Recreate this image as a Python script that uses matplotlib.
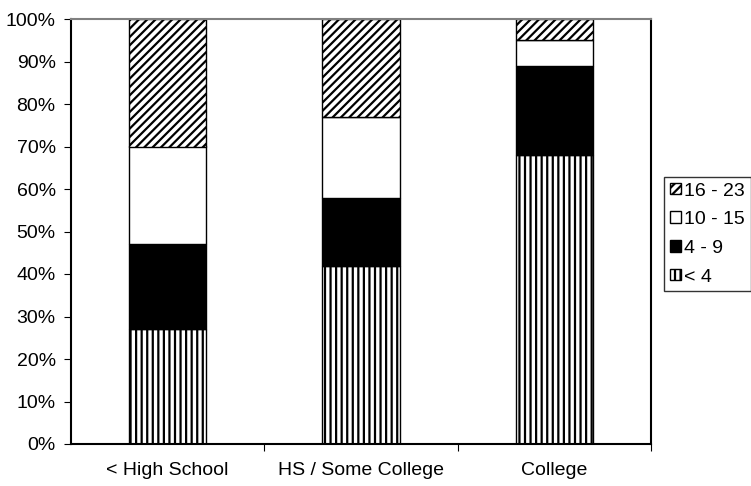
import matplotlib.pyplot as plt
import numpy as np

plt.rcParams['font.family'] = ['Liberation Sans', 'DejaVu Sans']
plt.rcParams['hatch.linewidth'] = 1.6

categories = ['< High School', 'HS / Some College', 'College']
series_names = ['< 4', '4 - 9', '10 - 15', '16 - 23']
lt4 = [27, 42, 68]
r4_9 = [20, 16, 21]
r10_15 = [23, 19, 6]
r16_23 = [30, 23, 5]

fills = ['white', 'black', 'white', 'white']
hatches = ['|||', None, None, '////']

fig = plt.figure(figsize=(7.51, 4.86), dpi=100)
ax = fig.add_axes([71 / 751, 1 - 444 / 486, 580 / 751, 425 / 486])

x = np.arange(len(categories))
bottom = np.zeros(len(categories))
handles = []
for name, vals, fc, h in zip(series_names, [lt4, r4_9, r10_15, r16_23], fills, hatches):
    b = ax.bar(x, vals, width=0.4, bottom=bottom, color=fc, edgecolor='black',
               linewidth=1.0, hatch=h, label=name)
    handles.append(b)
    bottom += np.array(vals)

ax.set_xlim(-0.5, 2.5)
ax.set_ylim(0, 100)
ax.set_yticks(np.arange(0, 101, 10))
ax.set_yticklabels([f'{v}%' for v in range(0, 101, 10)], fontsize=14)
ax.set_xticks([0.5, 1.5, 2.5])
ax.set_xticklabels([])
ax.set_xticks(x, minor=True)
ax.set_xticklabels(categories, minor=True, fontsize=14)
ax.tick_params(axis='x', which='minor', length=0, pad=13)
ax.tick_params(axis='x', which='major', length=5, direction='out')
ax.tick_params(axis='y', length=5, direction='out', pad=6)

ax.spines['top'].set_color('#808080')
ax.spines['top'].set_linewidth(1.5)
for s in ['left', 'bottom', 'right']:
    ax.spines[s].set_linewidth(1.5)
    ax.spines[s].set_color('black')

leg = fig.legend(handles[::-1], series_names[::-1], loc='center left',
                 bbox_to_anchor=(664 / 751, 1 - 234 / 486), fontsize=14,
                 frameon=True, fancybox=False, edgecolor='black',
                 handlelength=0.55, handleheight=0.55, handletextpad=0.2,
                 borderpad=0.3, labelspacing=0.6, borderaxespad=0)
leg.get_frame().set_linewidth(1.0)

fig.savefig('out.png', dpi=100)
